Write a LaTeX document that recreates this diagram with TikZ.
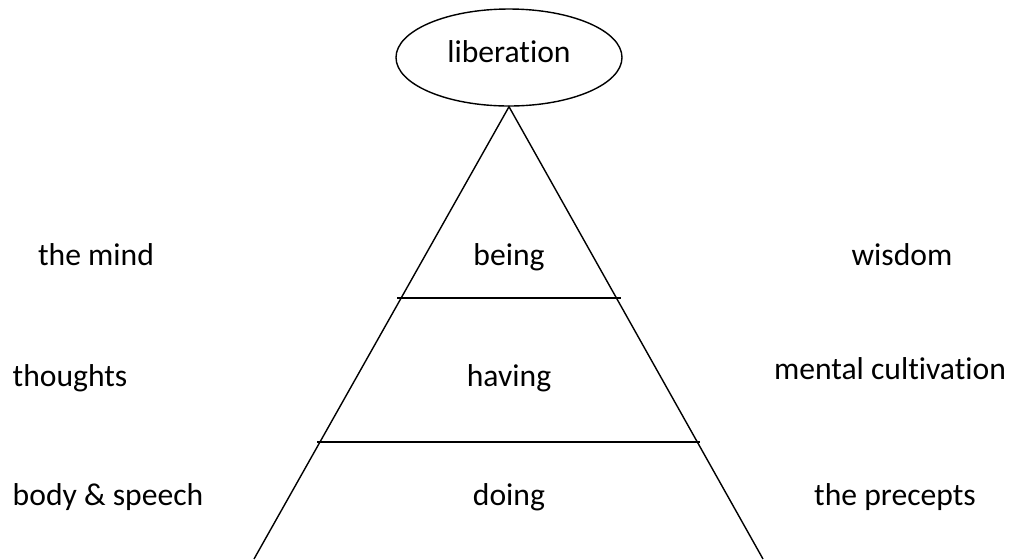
\documentclass[tikz,border=0pt]{standalone}
\usepackage{fontspec}
\setmainfont[Ligatures={NoCommon}]{Carlito}
\usepackage{tikz}
\usetikzlibrary{shapes,calc,positioning}

\tikzset{
  level/.style={font=\fontsize{18}{21}\selectfont, anchor=base},
  side/.style={font=\fontsize{18}{21}\selectfont, anchor=base}
}

\begin{document}
\begin{tikzpicture}[x=0.02cm,y=-0.02cm,line width=0.8pt]
          \useasboundingbox (0,0) rectangle (1014,559);

          % Sommet
          \node[draw, ellipse, minimum width=226*0.02cm, minimum height=97*0.02cm,
                inner sep=0pt] (top) at (509,57.5) {};
          \node[level] (liberation) at (509,62) {liberation};

          % Triangle
          \coordinate (apex) at (top.south);
          \coordinate (bl) at (254,559);
          \coordinate (br) at (763,559);
          \draw (bl) -- (apex) -- (br);

          % Separations
          \coordinate (s1l) at (397,298);
          \coordinate (s1r) at (621,298);
          \coordinate (s2l) at (317,442);
          \coordinate (s2r) at (700,442);
          \draw (s1l) -- (s1r);
          \draw (s2l) -- (s2r);

          % Niveaux
          \foreach \name/\y/\txt in {
            being/265/being,
            having/386/having,
            doing/505/doing
          } {
            \node[level] (\name) at (509,\y) {\txt};
          }

          % Gauche
          \foreach \name/\x/\y/\txt in {
            mind/96/265/the mind,
            thoughts/70/386/thoughts,
            body/108/505/body \& speech
          } {
            \node[side] (\name) at (\x,\y) {\txt};
          }

          % Droite
          \foreach \name/\x/\y/\txt in {
            wisdom/902/265/wisdom,
            mental/890/379/mental cultivation,
            precepts/895/505/the precepts
          } {
            \node[side] (\name) at (\x,\y) {\txt};
          }

        \end{tikzpicture}
\end{document}
